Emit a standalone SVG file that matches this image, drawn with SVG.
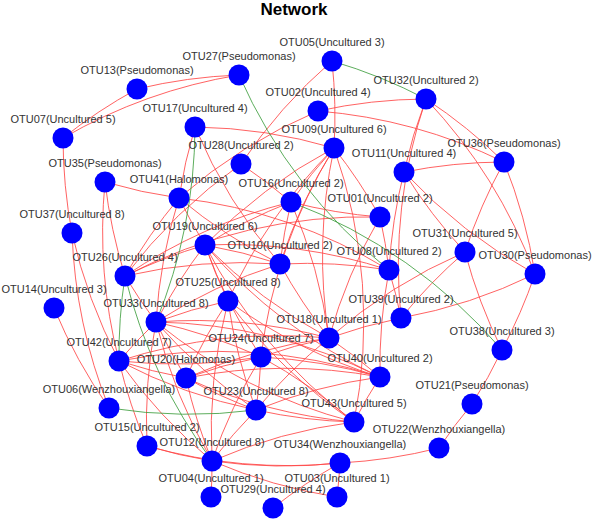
<svg xmlns="http://www.w3.org/2000/svg" width="594" height="522" viewBox="0 0 594 522">
<style>
.e path{fill:none;stroke:#ff4747;stroke-width:1;stroke-opacity:.85}
.e path.g{stroke:#3f9f3f}
.node circle{fill:#0000ff}
text{font-family:"Liberation Sans",Arial,sans-serif;font-size:11px;fill:#333;text-anchor:middle}
.title{font-size:17px;font-weight:bold;fill:#000}
</style>
<rect width="594" height="522" fill="#fff"/>
<text class="title" x="294" y="15">Network</text>
<g id="connectors" class="e">
<path d="M137 89A520 520 0 0 1 239 75"/>
<path d="M63 138A520 520 0 0 1 239 75"/>
<path d="M63 138A520 520 0 0 1 137 89"/>
<path d="M63 138A520 520 0 0 0 72 233"/>
<path d="M332 61A520 520 0 0 1 334 148"/>
<path d="M241 164A520 520 0 0 1 332 61"/>
<path d="M318 111A520 520 0 0 1 426 99"/>
<path d="M318 111A520 520 0 0 1 504 162"/>
<path d="M179 198A520 520 0 0 1 318 111"/>
<path d="M426 99A520 520 0 0 0 404 172"/>
<path d="M426 99A520 520 0 0 0 401 318"/>
<path d="M426 99A520 520 0 0 1 535 274"/>
<path d="M404 172A520 520 0 0 1 504 162"/>
<path d="M426 99A520 520 0 0 1 504 162"/>
<path d="M504 162A520 520 0 0 0 465 252"/>
<path d="M504 162A520 520 0 0 1 535 274"/>
<path d="M535 274A520 520 0 0 1 502 350"/>
<path d="M401 318A520 520 0 0 0 535 274"/>
<path d="M465 252A520 520 0 0 0 502 350"/>
<path d="M404 172A520 520 0 0 0 465 252"/>
<path d="M404 172A520 520 0 0 0 535 274"/>
<path d="M502 350A520 520 0 0 1 472 404"/>
<path d="M472 404A520 520 0 0 0 439 448"/>
<path d="M340 463A520 520 0 0 0 439 448"/>
<path d="M340 463A520 520 0 0 1 337 497"/>
<path d="M273 508A520 520 0 0 1 340 463"/>
<path d="M212 461A520 520 0 0 0 340 463"/>
<path d="M195 127A520 520 0 0 0 179 198"/>
<path d="M105 182A520 520 0 0 0 179 198"/>
<path d="M54 308A520 520 0 0 0 109 408"/>
<path d="M72 233A520 520 0 0 0 119 361"/>
<path d="M105 182A520 520 0 0 0 125 276"/>
<path d="M72 233A520 520 0 0 0 109 408"/>
<path d="M105 182A520 520 0 0 0 119 361"/>
<path d="M195 127A520 520 0 0 0 280 264"/>
<path d="M195 127A520 520 0 0 1 334 148"/>
<path d="M241 164A520 520 0 0 0 125 276"/>
<path d="M241 164A520 520 0 0 1 291 202"/>
<path d="M179 198A520 520 0 0 0 125 276"/>
<path d="M179 198A520 520 0 0 0 156 322"/>
<path d="M179 198A520 520 0 0 0 280 264"/>
<path d="M179 198A520 520 0 0 1 389 270"/>
<path d="M179 198A520 520 0 0 0 205 245"/>
<path d="M125 276A520 520 0 0 1 205 245"/>
<path d="M205 245A520 520 0 0 1 291 202"/>
<path d="M205 245A520 520 0 0 1 334 148"/>
<path d="M205 245A520 520 0 0 1 280 264"/>
<path d="M205 245A520 520 0 0 1 389 270"/>
<path d="M205 245A520 520 0 0 0 228 301"/>
<path d="M205 245A520 520 0 0 0 261 357"/>
<path d="M205 245A520 520 0 0 0 329 338"/>
<path d="M205 245A520 520 0 0 0 380 377"/>
<path d="M205 245A520 520 0 0 0 354 422"/>
<path d="M205 245A520 520 0 0 0 156 322"/>
<path d="M125 276A520 520 0 0 1 291 202"/>
<path d="M125 276A520 520 0 0 1 280 264"/>
<path d="M125 276A520 520 0 0 1 380 217"/>
<path d="M125 276A520 520 0 0 0 156 322"/>
<path d="M156 322A520 520 0 0 1 228 301"/>
<path d="M156 322A520 520 0 0 1 280 264"/>
<path d="M156 322A520 520 0 0 1 329 338"/>
<path d="M156 322A520 520 0 0 1 380 377"/>
<path d="M156 322A520 520 0 0 1 261 357"/>
<path d="M156 322A520 520 0 0 0 354 422"/>
<path d="M156 322A520 520 0 0 0 256 410"/>
<path d="M156 322A520 520 0 0 0 186 378"/>
<path d="M156 322A520 520 0 0 0 212 461"/>
<path d="M156 322A520 520 0 0 0 119 361"/>
<path d="M156 322A520 520 0 0 0 147 446"/>
<path d="M228 301A520 520 0 0 1 334 148"/>
<path d="M228 301A520 520 0 0 0 380 377"/>
<path d="M228 301A520 520 0 0 0 354 422"/>
<path d="M228 301A520 520 0 0 0 256 410"/>
<path d="M228 301A520 520 0 0 0 186 378"/>
<path d="M228 301A520 520 0 0 0 212 461"/>
<path d="M280 264A520 520 0 0 1 389 270"/>
<path d="M280 264A520 520 0 0 0 329 338"/>
<path d="M334 148A520 520 0 0 0 280 264"/>
<path d="M334 148A520 520 0 0 0 291 202"/>
<path d="M334 148A520 520 0 0 1 380 217"/>
<path d="M291 202A520 520 0 0 0 380 217"/>
<path d="M291 202A520 520 0 0 0 280 264"/>
<path d="M291 202A520 520 0 0 1 329 338"/>
<path d="M380 217A520 520 0 0 1 389 270"/>
<path d="M380 217A520 520 0 0 0 329 338"/>
<path d="M404 172A520 520 0 0 0 389 270"/>
<path d="M389 270A520 520 0 0 1 401 318"/>
<path d="M389 270A520 520 0 0 0 380 377"/>
<path d="M465 252A520 520 0 0 0 401 318"/>
<path d="M329 338A520 520 0 0 1 401 318"/>
<path d="M329 338A520 520 0 0 1 465 252"/>
<path d="M329 338A520 520 0 0 1 380 377"/>
<path d="M329 338A520 520 0 0 0 261 357"/>
<path d="M334 148A520 520 0 0 0 329 338"/>
<path d="M334 148A520 520 0 0 0 261 357"/>
<path d="M334 148A520 520 0 0 1 354 422"/>
<path d="M261 357A520 520 0 0 1 119 361"/>
<path d="M261 357A520 520 0 0 0 186 378"/>
<path d="M261 357A520 520 0 0 1 256 410"/>
<path d="M261 357A520 520 0 0 1 380 377"/>
<path d="M261 357A520 520 0 0 1 354 422"/>
<path d="M261 357A520 520 0 0 0 212 461"/>
<path d="M119 361A520 520 0 0 0 186 378"/>
<path d="M119 361A520 520 0 0 1 380 377"/>
<path d="M119 361A520 520 0 0 0 256 410"/>
<path d="M119 361A520 520 0 0 1 329 338"/>
<path d="M119 361A520 520 0 0 0 212 461"/>
<path d="M119 361A520 520 0 0 0 147 446"/>
<path d="M186 378A520 520 0 0 0 256 410"/>
<path d="M186 378A520 520 0 0 1 380 377"/>
<path d="M186 378A520 520 0 0 0 354 422"/>
<path d="M186 378A520 520 0 0 1 329 338"/>
<path d="M186 378A520 520 0 0 0 212 461"/>
<path d="M256 410A520 520 0 0 0 354 422"/>
<path d="M256 410A520 520 0 0 1 380 377"/>
<path d="M256 410A520 520 0 0 0 212 461"/>
<path d="M329 338A520 520 0 0 0 256 410"/>
<path d="M380 377A520 520 0 0 0 354 422"/>
<path d="M212 461A520 520 0 0 1 354 422"/>
<path d="M212 461A520 520 0 0 0 337 497"/>
<path d="M147 446A520 520 0 0 0 212 461"/>
<path d="M147 446A520 520 0 0 0 340 463"/>
<path d="M212 461A520 520 0 0 1 211 497"/>
<path class="g" d="M332 61A520 520 0 0 1 426 99"/>
<path class="g" d="M239 75A520 520 0 0 0 389 270"/>
<path class="g" d="M291 202A520 520 0 0 1 502 350"/>
<path class="g" d="M195 127A520 520 0 0 1 156 322"/>
<path class="g" d="M125 276A520 520 0 0 0 119 361"/>
<path class="g" d="M125 276A520 520 0 0 0 212 461"/>
<path class="g" d="M109 408A520 520 0 0 0 256 410"/>
</g>
<g id="nodes" class="node">
<g id="OTU05"><circle cx="332" cy="61" r="10.5"/><text x="332" y="46">OTU05(Uncultured 3)</text></g>
<g id="OTU27"><circle cx="239" cy="75" r="10.5"/><text x="239" y="60">OTU27(Pseudomonas)</text></g>
<g id="OTU13"><circle cx="137" cy="89" r="10.5"/><text x="137" y="74">OTU13(Pseudomonas)</text></g>
<g id="OTU32"><circle cx="426" cy="99" r="10.5"/><text x="426" y="84">OTU32(Uncultured 2)</text></g>
<g id="OTU02"><circle cx="318" cy="111" r="10.5"/><text x="318" y="96">OTU02(Uncultured 4)</text></g>
<g id="OTU17"><circle cx="195" cy="127" r="10.5"/><text x="195" y="112">OTU17(Uncultured 4)</text></g>
<g id="OTU07"><circle cx="63" cy="138" r="10.5"/><text x="63" y="123">OTU07(Uncultured 5)</text></g>
<g id="OTU09"><circle cx="334" cy="148" r="10.5"/><text x="334" y="133">OTU09(Uncultured 6)</text></g>
<g id="OTU36"><circle cx="504" cy="162" r="10.5"/><text x="504" y="147">OTU36(Pseudomonas)</text></g>
<g id="OTU28"><circle cx="241" cy="164" r="10.5"/><text x="241" y="149">OTU28(Uncultured 2)</text></g>
<g id="OTU11"><circle cx="404" cy="172" r="10.5"/><text x="404" y="157">OTU11(Uncultured 4)</text></g>
<g id="OTU35"><circle cx="105" cy="182" r="10.5"/><text x="105" y="167">OTU35(Pseudomonas)</text></g>
<g id="OTU41"><circle cx="179" cy="198" r="10.5"/><text x="179" y="183">OTU41(Halomonas)</text></g>
<g id="OTU16"><circle cx="291" cy="202" r="10.5"/><text x="291" y="187">OTU16(Uncultured 2)</text></g>
<g id="OTU01"><circle cx="380" cy="217" r="10.5"/><text x="380" y="202">OTU01(Uncultured 2)</text></g>
<g id="OTU37"><circle cx="72" cy="233" r="10.5"/><text x="72" y="218">OTU37(Uncultured 8)</text></g>
<g id="OTU19"><circle cx="205" cy="245" r="10.5"/><text x="205" y="230">OTU19(Uncultured 6)</text></g>
<g id="OTU31"><circle cx="465" cy="252" r="10.5"/><text x="465" y="237">OTU31(Uncultured 5)</text></g>
<g id="OTU10"><circle cx="280" cy="264" r="10.5"/><text x="280" y="249">OTU10(Uncultured 2)</text></g>
<g id="OTU08"><circle cx="389" cy="270" r="10.5"/><text x="389" y="255">OTU08(Uncultured 2)</text></g>
<g id="OTU30"><circle cx="535" cy="274" r="10.5"/><text x="535" y="259">OTU30(Pseudomonas)</text></g>
<g id="OTU26"><circle cx="125" cy="276" r="10.5"/><text x="125" y="261">OTU26(Uncultured 4)</text></g>
<g id="OTU25"><circle cx="228" cy="301" r="10.5"/><text x="228" y="286">OTU25(Uncultured 8)</text></g>
<g id="OTU14"><circle cx="54" cy="308" r="10.5"/><text x="54" y="293">OTU14(Uncultured 3)</text></g>
<g id="OTU39"><circle cx="401" cy="318" r="10.5"/><text x="401" y="303">OTU39(Uncultured 2)</text></g>
<g id="OTU33"><circle cx="156" cy="322" r="10.5"/><text x="156" y="307">OTU33(Uncultured 8)</text></g>
<g id="OTU18"><circle cx="329" cy="338" r="10.5"/><text x="329" y="323">OTU18(Uncultured 1)</text></g>
<g id="OTU38"><circle cx="502" cy="350" r="10.5"/><text x="502" y="335">OTU38(Uncultured 3)</text></g>
<g id="OTU24"><circle cx="261" cy="357" r="10.5"/><text x="261" y="342">OTU24(Uncultured 7)</text></g>
<g id="OTU42"><circle cx="119" cy="361" r="10.5"/><text x="119" y="346">OTU42(Uncultured 7)</text></g>
<g id="OTU40"><circle cx="380" cy="377" r="10.5"/><text x="380" y="362">OTU40(Uncultured 2)</text></g>
<g id="OTU20"><circle cx="186" cy="378" r="10.5"/><text x="186" y="363">OTU20(Halomonas)</text></g>
<g id="OTU21"><circle cx="472" cy="404" r="10.5"/><text x="472" y="389">OTU21(Pseudomonas)</text></g>
<g id="OTU06"><circle cx="109" cy="408" r="10.5"/><text x="109" y="393">OTU06(Wenzhouxiangella)</text></g>
<g id="OTU23"><circle cx="256" cy="410" r="10.5"/><text x="256" y="395">OTU23(Uncultured 8)</text></g>
<g id="OTU43"><circle cx="354" cy="422" r="10.5"/><text x="354" y="407">OTU43(Uncultured 5)</text></g>
<g id="OTU15"><circle cx="147" cy="446" r="10.5"/><text x="147" y="431">OTU15(Uncultured 2)</text></g>
<g id="OTU22"><circle cx="439" cy="448" r="10.5"/><text x="439" y="433">OTU22(Wenzhouxiangella)</text></g>
<g id="OTU12"><circle cx="212" cy="461" r="10.5"/><text x="212" y="446">OTU12(Uncultured 8)</text></g>
<g id="OTU34"><circle cx="340" cy="463" r="10.5"/><text x="340" y="448">OTU34(Wenzhouxiangella)</text></g>
<g id="OTU04"><circle cx="211" cy="497" r="10.5"/><text x="211" y="482">OTU04(Uncultured 1)</text></g>
<g id="OTU03"><circle cx="337" cy="497" r="10.5"/><text x="337" y="482">OTU03(Uncultured 1)</text></g>
<g id="OTU29"><circle cx="273" cy="508" r="10.5"/><text x="273" y="493">OTU29(Uncultured 4)</text></g>
</g>
</svg>
